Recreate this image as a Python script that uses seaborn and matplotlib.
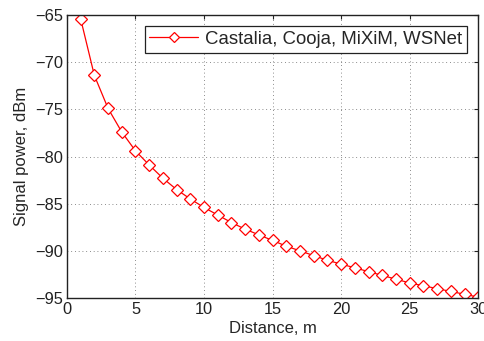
import matplotlib
matplotlib.use("Agg")
import matplotlib.pyplot as plt
import seaborn as sns
import pandas as pd

# Signal power vs distance
distance = list(range(1, 31))
power = [-65.4, -71.4, -74.9, -77.4, -79.4, -80.9, -82.3, -83.5, -84.5, -85.4,
         -86.2, -87.0, -87.7, -88.3, -88.9, -89.5, -90.0, -90.5, -91.0, -91.4,
         -91.8, -92.2, -92.6, -93.0, -93.4, -93.7, -94.0, -94.3, -94.6, -94.9]
series_label = "Castalia, Cooja, MiXiM, WSNet"
x_ticks = [0, 5, 10, 15, 20, 25, 30]
y_ticks = [-95, -90, -85, -80, -75, -70, -65]

df = pd.DataFrame({"distance": distance, "power": power})

sns.set_style("white")
plt.rcParams["font.family"] = ["Liberation Sans", "DejaVu Sans"]
plt.rcParams["axes.unicode_minus"] = True

fig = plt.figure(figsize=(4.85, 3.41), dpi=100)
ax = fig.add_axes([0.138, 0.126, 0.848, 0.830])

sns.lineplot(data=df, x="distance", y="power", ax=ax, color="#ff0000",
             linewidth=0.9, marker="D", markersize=6.5, markerfacecolor="white",
             markeredgecolor="#ff0000", markeredgewidth=0.9, label=series_label)

ax.set_xlim(0, 30)
ax.set_ylim(-95, -65)
ax.set_xticks(x_ticks)
ax.set_yticks(y_ticks)
ax.set_xlabel("Distance, m", fontsize=12, labelpad=3)
ax.set_ylabel("Signal power, dBm", fontsize=12, labelpad=4)
ax.tick_params(direction="in", top=True, right=True, length=3, width=0.8,
               labelsize=11.8, colors="#222222", pad=3)
ax.grid(True, linestyle=(0, (1, 3.5)), color="#666666", linewidth=0.6)
for s in ax.spines.values():
    s.set_color("#222222")
    s.set_linewidth(1.0)

leg = ax.legend(loc="upper right", fontsize=13.4, frameon=True, fancybox=False,
                edgecolor="#222222", framealpha=1, handlelength=2.6,
                markerscale=0.85, borderaxespad=0.6, borderpad=0.25,
                handletextpad=0.4)
leg.get_frame().set_linewidth(0.9)

fig.savefig("out.png", dpi=100)
